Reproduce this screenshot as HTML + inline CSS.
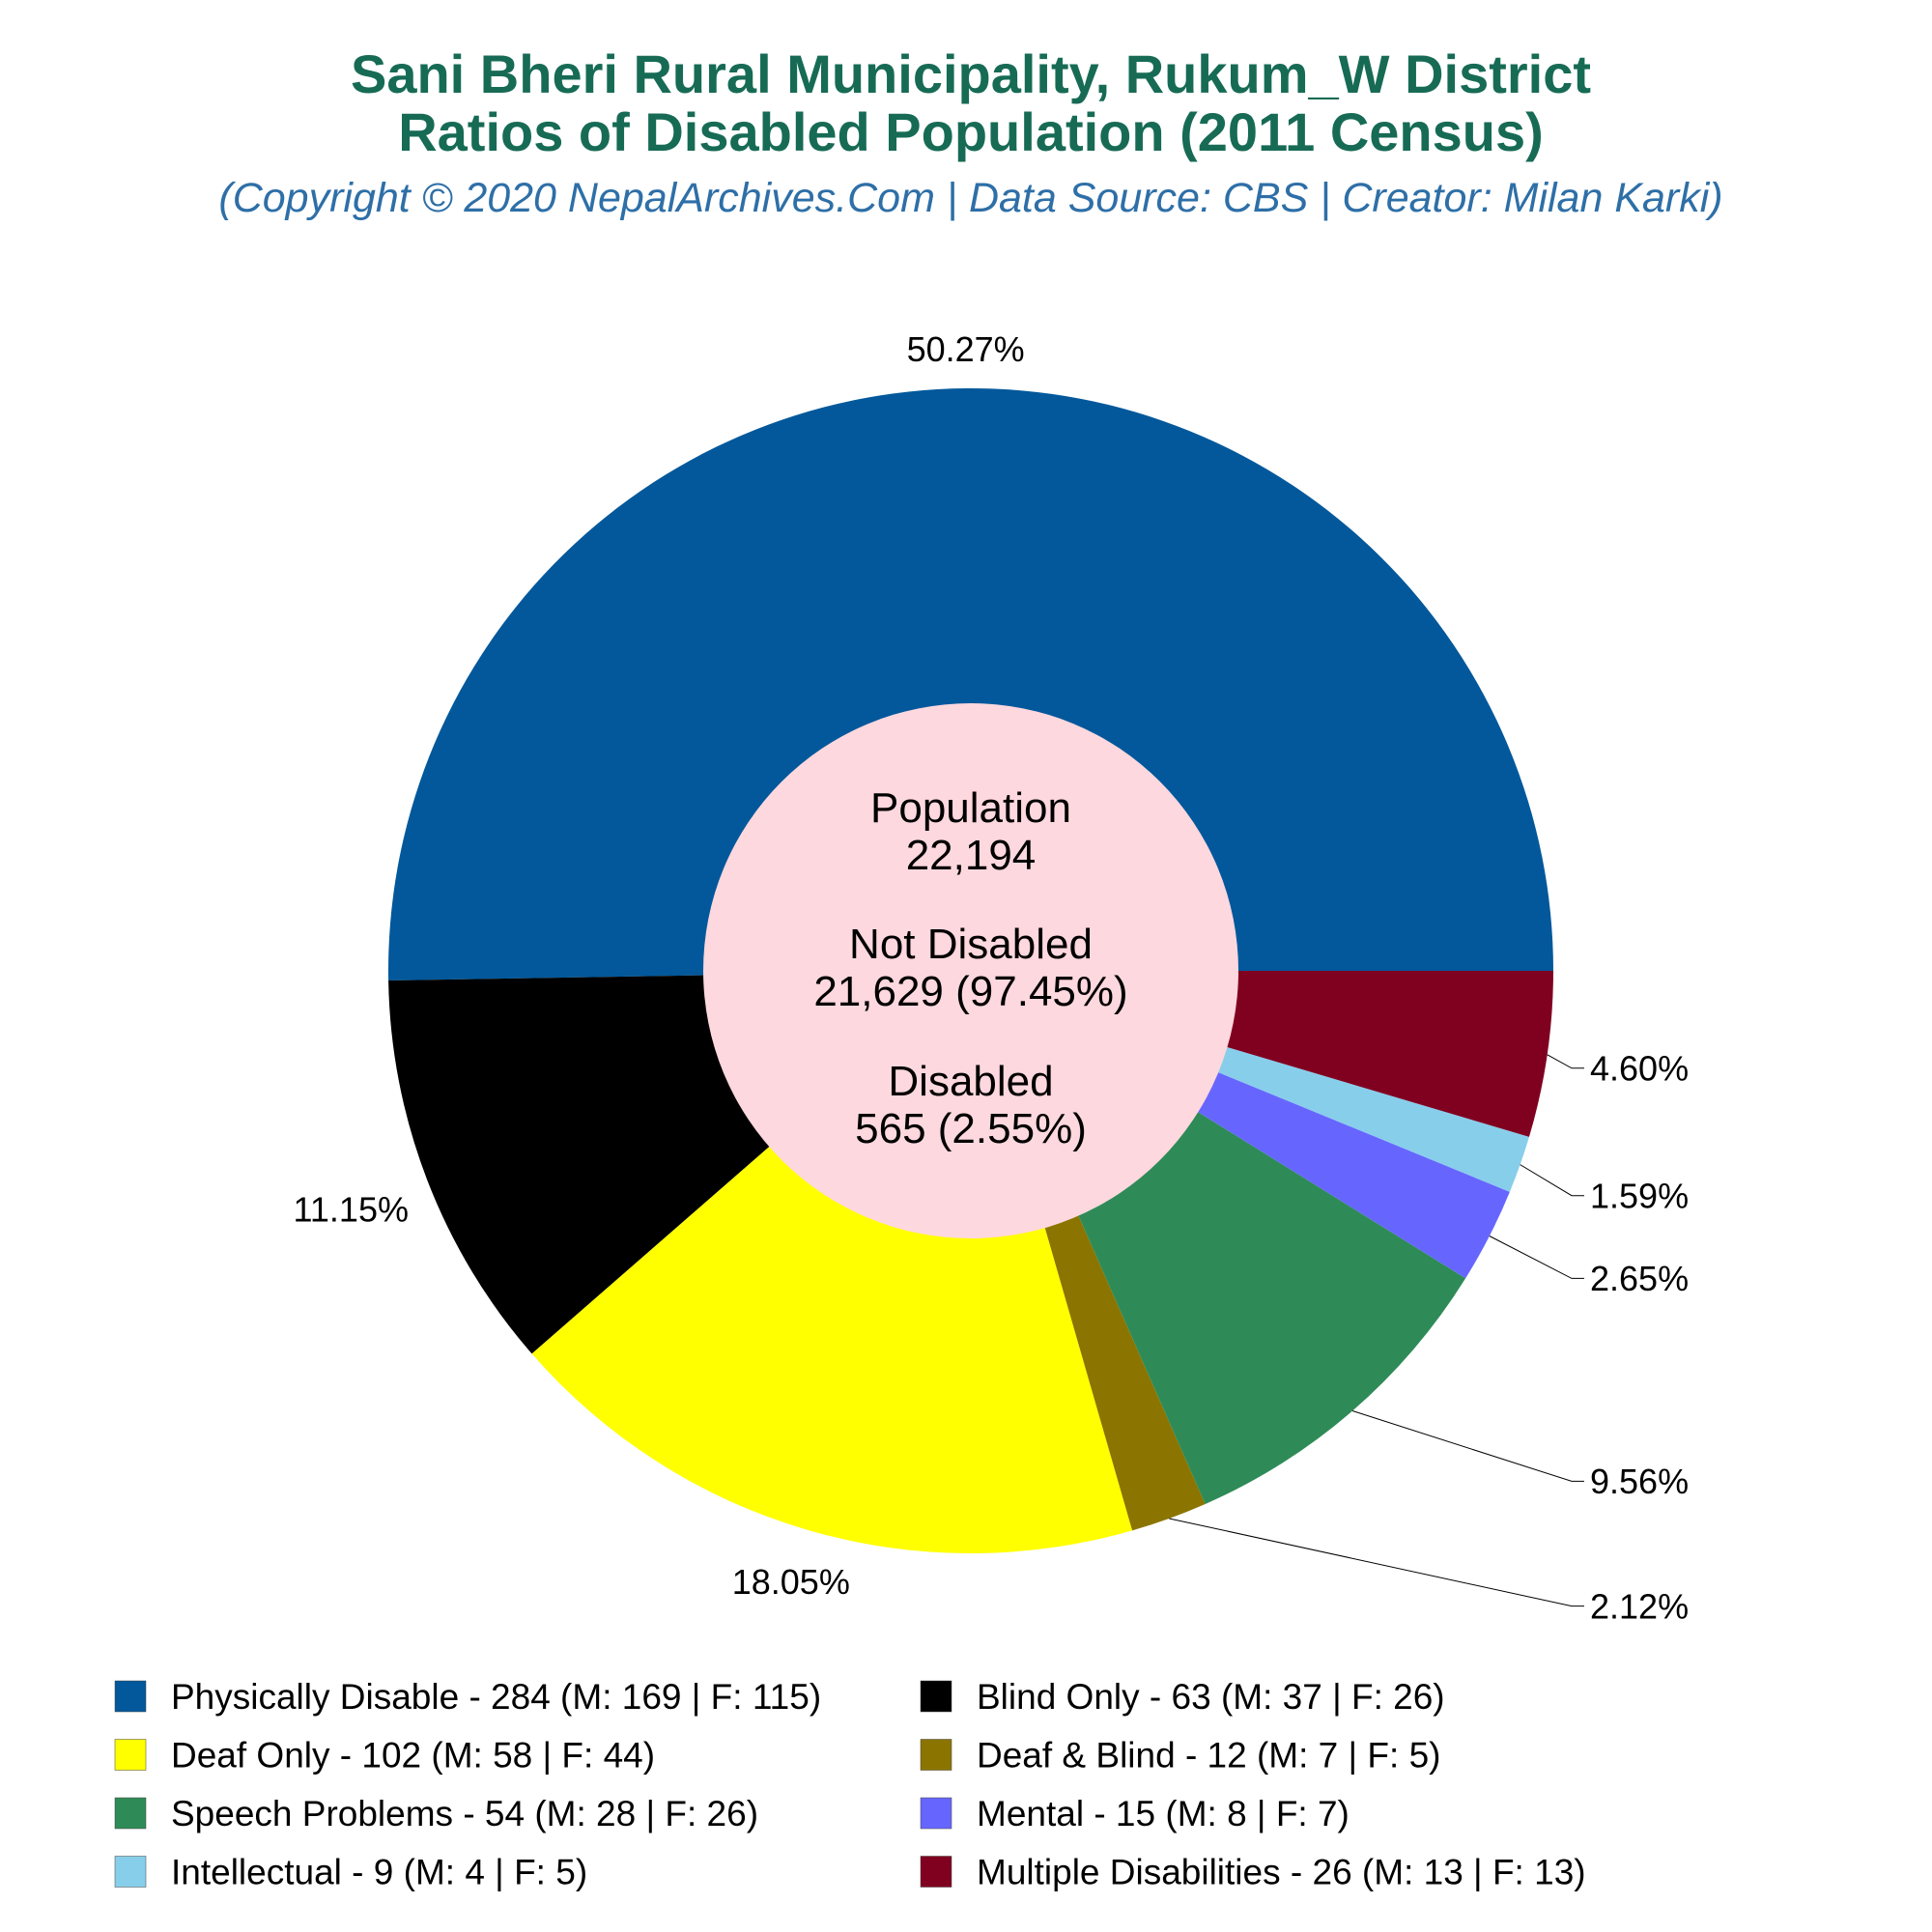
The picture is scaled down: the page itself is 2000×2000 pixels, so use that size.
<!DOCTYPE html>
<html><head><meta charset="utf-8"><style>
html,body{margin:0;padding:0;background:#fff;}
svg{display:block;font-family:"Liberation Sans",Arial,sans-serif;}
</style></head><body>
<svg id="chart" width="2000" height="2000" viewBox="0 0 2000 2000" xmlns="http://www.w3.org/2000/svg">
<rect width="2000" height="2000" fill="#fff"/>
<text x="1005" y="96" text-anchor="middle" font-size="56" font-weight="bold" fill="#176b55">Sani Bheri Rural Municipality, Rukum_W District</text>
<text x="1005" y="156" text-anchor="middle" font-size="56" font-weight="bold" fill="#176b55">Ratios of Disabled Population (2011 Census)</text>
<text x="1005" y="219" text-anchor="middle" font-size="43" font-style="italic" fill="#2e6fa7">(Copyright © 2020 NepalArchives.Com | Data Source: CBS | Creator: Milan Karki)</text>
<g id="slices"></g>
<g id="labels"></g>
<circle cx="1005" cy="1005" r="277" fill="#fdd8de"/>
<g font-size="44" text-anchor="middle" fill="#000">
<text x="1005" y="851">Population</text>
<text x="1005" y="900">22,194</text>
<text x="1005" y="992">Not Disabled</text>
<text x="1005" y="1041">21,629 (97.45%)</text>
<text x="1005" y="1134">Disabled</text>
<text x="1005" y="1183">565 (2.55%)</text>
</g>
<g id="legend"></g>
</svg>
<script>
const categories = ["Physically Disable","Blind Only","Deaf Only","Deaf & Blind","Speech Problems","Mental","Intellectual","Multiple Disabilities"];
const counts = [284,63,102,12,54,15,9,26];
const males = [169,37,58,7,28,8,4,13];
const females = [115,26,44,5,26,7,5,13];
const colors = ["#02589b","#000000","#ffff00","#8b7500","#2e8b57","#6666ff","#87ceeb","#800020"];

const NS="http://www.w3.org/2000/svg";
const cx=1005, cy=1005, R=603, FS=36;
const total=counts.reduce((a,b)=>a+b,0);
const sliceG=document.getElementById('slices'), labG=document.getElementById('labels'), legG=document.getElementById('legend');
function pt(a,r){return [cx+r*Math.cos(a), cy-r*Math.sin(a)];}
function mk(tag,attrs){const e=document.createElementNS(NS,tag);for(const k in attrs)e.setAttribute(k,attrs[k]);return e;}
let cum=0; const small=[];
counts.forEach((v,i)=>{
  const a0=cum/total*2*Math.PI; cum+=v; const a1=cum/total*2*Math.PI;
  const p0=pt(a0,R), p1=pt(a1,R); const large=(a1-a0)>Math.PI?1:0;
  const path=mk('path',{d:`M${cx},${cy} L${p0[0]},${p0[1]} A${R},${R} 0 ${large} 0 ${p1[0]},${p1[1]} Z`,fill:colors[i]});
  
  
  sliceG.appendChild(path);
  const pct=(v/total*100).toFixed(2)+'%';
  const mid=(a0+a1)/2;
  if(v/total>0.1){
    const w=pct.length*FS*0.556;
    const rr=R+22+w/2*Math.abs(Math.cos(mid))+FS/2*Math.abs(Math.sin(mid));
    const p=pt(mid,rr);
    const t=mk('text',{x:p[0],y:p[1]+FS*0.35,'text-anchor':'middle','font-size':FS,fill:'#000'});
    
    
    t.textContent=pct; labG.appendChild(t);
  } else {
    small.push({mid,pct,i});
  }
});
small.sort((a,b)=>(cy-R*Math.sin(a.mid))-(cy-R*Math.sin(b.mid)));
let lastY=-1e9;
small.forEach(s=>{
  let y=cy-1.16*R*Math.sin(s.mid);
  if(y<lastY+80)y=lastY+80; lastY=y;
  const p=pt(s.mid,R);
  const ln=mk('polyline',{points:`${p[0]},${p[1]} ${1627},${y} ${1640},${y}`,fill:'none',stroke:'#000','stroke-width':1});
  
  
  labG.appendChild(ln);
  const t=mk('text',{x:1646,y:y+FS*0.35,'font-size':FS,fill:'#000'});
  
  
  t.textContent=s.pct; labG.appendChild(t);
});
categories.forEach((c,i)=>{
  const col=i%2, row=Math.floor(i/2);
  const x=col?953:119, y=1756+row*60.5;
  const r=mk('rect',{x:x,y:y-16,width:32,height:32,fill:colors[i],stroke:'#444','stroke-width':0.5});
  
  
  legG.appendChild(r);
  const t=mk('text',{x:x+58,y:y+13,'font-size':37,fill:'#000'});
  
  
  t.textContent=`${c} - ${counts[i]} (M: ${males[i]} | F: ${females[i]})`;
  legG.appendChild(t);
});
</script>
</body></html>
